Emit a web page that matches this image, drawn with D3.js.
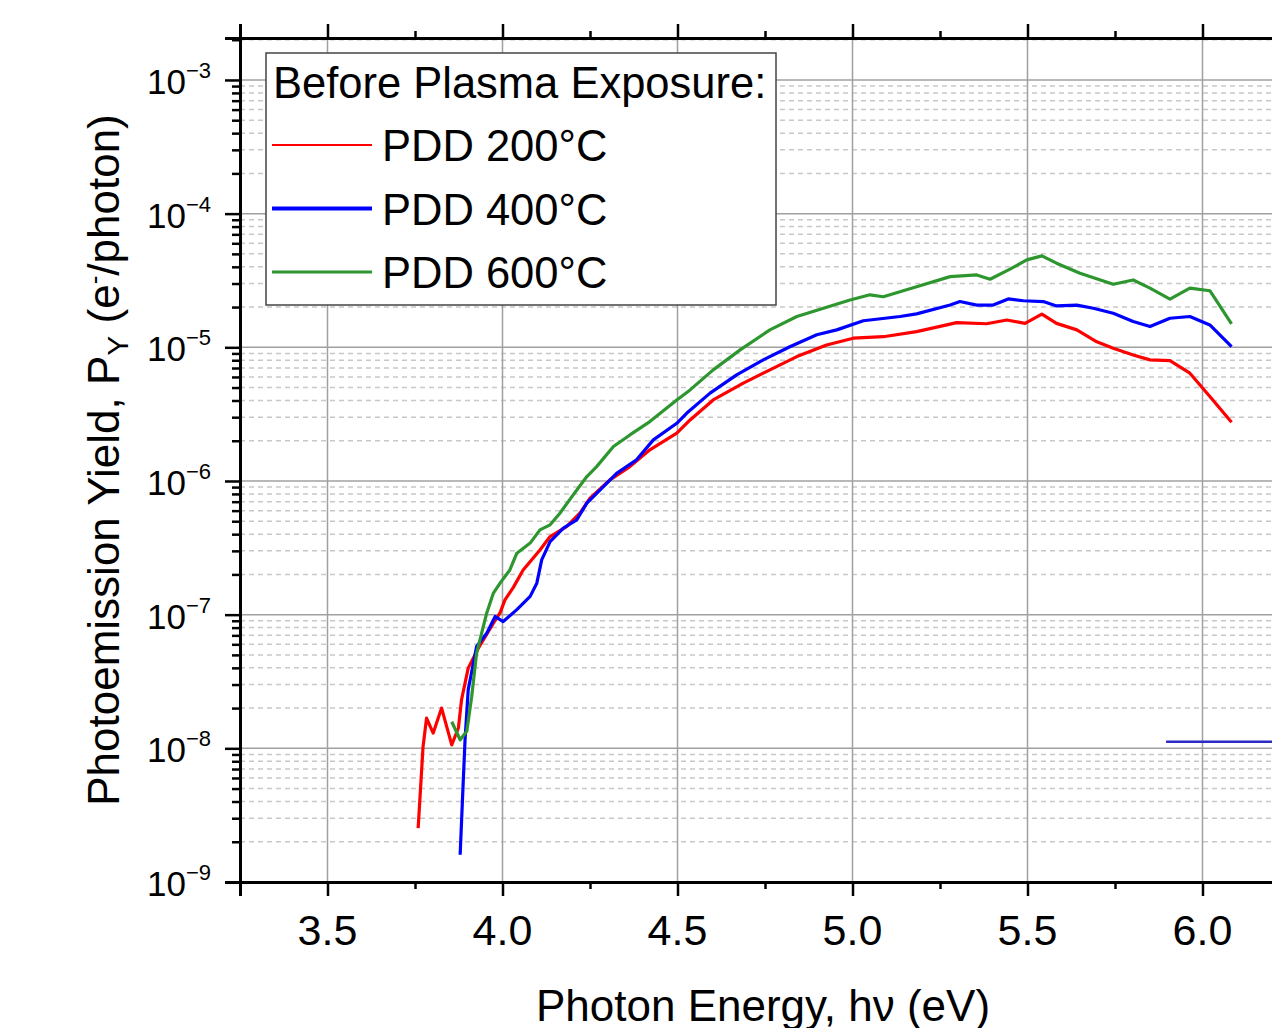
<!DOCTYPE html>
<html>
<head>
<meta charset="utf-8">
<script src="https://cdn.jsdelivr.net/npm/d3@7"></script>
<style>
  html, body { margin: 0; padding: 0; background: #fff; overflow: hidden; }
  svg { display: block; font-family: "Liberation Sans", Arial, sans-serif; }
</style>
</head>
<body>
<svg id="chart" width="1272" height="1028"></svg>
<script>
// ---------- data ----------
const xTickLabels = ["3.5", "4.0", "4.5", "5.0", "5.5", "6.0"];
const xMajorTicks = [3.5, 4.0, 4.5, 5.0, 5.5, 6.0];
const xMinorTicks = [3.25, 3.75, 4.25, 4.75, 5.25, 5.75, 6.25];
const yMajorExponents = [-9, -8, -7, -6, -5, -4, -3];

const seriesNames = ["PDD 200°C", "PDD 400°C", "PDD 600°C"];
const seriesColors = ["#ff0000", "#0000ff", "#2e962e"];

const pdd200 = [
  [3.759, 2.53e-9], [3.773, 1.03e-8], [3.783, 1.68e-8], [3.802, 1.30e-8], [3.826, 2.00e-8],
  [3.855, 1.06e-8], [3.874, 1.42e-8], [3.883, 2.31e-8], [3.902, 3.98e-8], [3.931, 5.61e-8],
  [3.974, 8.63e-8], [3.993, 1.03e-7], [4.007, 1.29e-7], [4.031, 1.60e-7], [4.059, 2.16e-7],
  [4.107, 3.05e-7], [4.136, 3.84e-7], [4.183, 4.56e-7], [4.221, 5.74e-7], [4.250, 7.43e-7],
  [4.307, 1.02e-6], [4.364, 1.28e-6], [4.421, 1.71e-6], [4.498, 2.28e-6], [4.536, 2.86e-6],
  [4.602, 4.04e-6], [4.688, 5.39e-6], [4.764, 6.78e-6], [4.841, 8.52e-6], [4.926, 1.04e-5],
  [5.002, 1.17e-5], [5.088, 1.20e-5], [5.183, 1.31e-5], [5.298, 1.53e-5], [5.383, 1.50e-5],
  [5.441, 1.60e-5], [5.493, 1.51e-5], [5.541, 1.77e-5], [5.583, 1.51e-5], [5.641, 1.35e-5],
  [5.698, 1.10e-5], [5.745, 9.85e-6], [5.802, 8.77e-6], [5.850, 8.05e-6], [5.907, 7.95e-6],
  [5.964, 6.40e-6], [6.021, 4.28e-6], [6.083, 2.75e-6]
];

const pdd400 = [
  [3.879, 1.60e-9], [3.888, 5.81e-9], [3.893, 1.16e-8], [3.902, 2.74e-8], [3.926, 5.77e-8],
  [3.955, 7.27e-8], [3.979, 9.68e-8], [4.002, 8.88e-8], [4.041, 1.09e-7], [4.079, 1.37e-7],
  [4.098, 1.72e-7], [4.112, 2.57e-7], [4.136, 3.52e-7], [4.174, 4.44e-7], [4.212, 5.12e-7],
  [4.241, 6.82e-7], [4.279, 8.58e-7], [4.326, 1.14e-6], [4.383, 1.44e-6], [4.431, 2.03e-6],
  [4.498, 2.70e-6], [4.526, 3.21e-6], [4.593, 4.54e-6], [4.669, 6.22e-6], [4.745, 8.05e-6],
  [4.821, 1.01e-5], [4.898, 1.24e-5], [4.955, 1.35e-5], [5.031, 1.58e-5], [5.136, 1.70e-5],
  [5.183, 1.78e-5], [5.279, 2.07e-5], [5.307, 2.20e-5], [5.355, 2.07e-5], [5.402, 2.07e-5],
  [5.445, 2.30e-5], [5.488, 2.23e-5], [5.545, 2.20e-5], [5.583, 2.04e-5], [5.641, 2.07e-5],
  [5.688, 1.96e-5], [5.745, 1.80e-5], [5.802, 1.56e-5], [5.850, 1.43e-5], [5.907, 1.65e-5],
  [5.964, 1.70e-5], [6.021, 1.47e-5], [6.083, 1.01e-5]
];

const pdd600 = [
  [3.855, 1.58e-8], [3.879, 1.16e-8], [3.898, 1.34e-8], [3.912, 2.44e-8], [3.926, 5.15e-8],
  [3.955, 1.03e-7], [3.974, 1.45e-7], [3.993, 1.72e-7], [4.021, 2.16e-7], [4.041, 2.88e-7],
  [4.079, 3.43e-7], [4.107, 4.31e-7], [4.136, 4.70e-7], [4.164, 5.74e-7], [4.202, 7.87e-7],
  [4.241, 1.08e-6], [4.269, 1.28e-6], [4.317, 1.81e-6], [4.364, 2.21e-6], [4.421, 2.78e-6],
  [4.498, 4.04e-6], [4.536, 4.80e-6], [4.602, 6.78e-6], [4.679, 9.57e-6], [4.764, 1.35e-5],
  [4.841, 1.70e-5], [4.917, 1.96e-5], [4.993, 2.26e-5], [5.050, 2.47e-5], [5.088, 2.39e-5],
  [5.183, 2.84e-5], [5.279, 3.38e-5], [5.355, 3.48e-5], [5.393, 3.23e-5], [5.450, 3.84e-5],
  [5.498, 4.51e-5], [5.541, 4.83e-5], [5.583, 4.26e-5], [5.650, 3.58e-5], [5.745, 2.96e-5],
  [5.802, 3.19e-5], [5.850, 2.77e-5], [5.907, 2.29e-5], [5.964, 2.77e-5], [6.021, 2.65e-5],
  [6.083, 1.50e-5]
];

// flat blue segment at lower right (partly outside the view)
const baselineSegment = [[5.896, 1.12e-8], [6.25, 1.12e-8]];

// ---------- layout ----------
const svg = d3.select("#chart");
const L = 240, R = 1290, T = 38, B = 882;

const x = d3.scaleLinear().domain([3.25, 6.25]).range([L, R]);
const y = d3.scaleLog().domain([1e-9, 2.06e-3]).range([B, T]);

// grid
const grid = svg.append("g");
const minorVals = [];
yMajorExponents.forEach(e => {
  for (let k = 2; k <= 9; k++) {
    const v = k * Math.pow(10, e);
    if (v < 2.06e-3) minorVals.push(v);
  }
});
grid.selectAll(".ymin").data(minorVals).enter().append("line")
  .attr("x1", L).attr("x2", R)
  .attr("y1", d => y(d)).attr("y2", d => y(d))
  .attr("stroke", "#c8c8c8").attr("stroke-width", 1.5)
  .attr("stroke-dasharray", "5,4");
grid.selectAll(".ymaj").data(yMajorExponents.map(e => Math.pow(10, e))).enter().append("line")
  .attr("x1", L).attr("x2", R)
  .attr("y1", d => y(d)).attr("y2", d => y(d))
  .attr("stroke", "#a0a0a0").attr("stroke-width", 1.5);
grid.selectAll(".xmaj").data(xMajorTicks).enter().append("line")
  .attr("x1", d => x(d)).attr("x2", d => x(d))
  .attr("y1", T).attr("y2", B)
  .attr("stroke", "#a0a0a0").attr("stroke-width", 1.5);

// curves
const line = d3.line().x(d => x(d[0])).y(d => y(d[1]));
const allSeries = [pdd200, pdd400, pdd600];
allSeries.forEach((s, i) => {
  svg.append("path").datum(s)
    .attr("d", line)
    .attr("fill", "none")
    .attr("stroke", seriesColors[i])
    .attr("stroke-width", 3.2)
    .attr("stroke-linejoin", "round");
});
svg.append("path").datum(baselineSegment)
  .attr("d", line).attr("fill", "none")
  .attr("stroke", "#2b2bc8").attr("stroke-width", 2.5);

// legend
const lg = svg.append("g");
lg.append("rect").attr("x", 266).attr("y", 53).attr("width", 510).attr("height", 252)
  .attr("fill", "#fff").attr("stroke", "#444").attr("stroke-width", 1.5);
lg.append("text").attr("x", 273).attr("y", 98).attr("font-size", 43.5).attr("fill", "#000")
  .text("Before Plasma Exposure:");
const legendWidths = [2, 4, 3];
seriesNames.forEach((n, i) => {
  const cy = 145 + i * 63.5;
  lg.append("line").attr("x1", 272).attr("x2", 372).attr("y1", cy).attr("y2", cy)
    .attr("stroke", seriesColors[i]).attr("stroke-width", legendWidths[i]);
  lg.append("text").attr("x", 382).attr("y", cy + 16).attr("font-size", 43.5).attr("fill", "#000")
    .text(n);
});

// axes
const axes = svg.append("g");
const bottomMajor = d3.axisBottom(x).tickValues(xMajorTicks).tickSize(14).tickFormat("");
const bottomMinor = d3.axisBottom(x).tickValues(xMinorTicks).tickSize(7).tickFormat("");
const topMajor = d3.axisTop(x).tickValues(xMajorTicks).tickSize(14).tickFormat("");
const topMinor = d3.axisTop(x).tickValues(xMinorTicks).tickSize(7).tickFormat("");
const leftMajor = d3.axisLeft(y).tickValues(yMajorExponents.map(e => Math.pow(10, e))).tickSize(15).tickFormat("");
const leftMinor = d3.axisLeft(y).tickValues(minorVals).tickSize(8).tickFormat("");

function styleAxis(g) {
  g.selectAll("path.domain").attr("stroke", "#000").attr("stroke-width", 3);
  g.selectAll(".tick line").attr("stroke", "#000").attr("stroke-width", 2.5);
}
axes.append("g").attr("transform", `translate(0,${B})`).call(bottomMinor).call(styleAxis);
axes.append("g").attr("transform", `translate(0,${B})`).call(bottomMajor).call(styleAxis);
axes.append("g").attr("transform", `translate(0,${T})`).call(topMinor).call(styleAxis);
axes.append("g").attr("transform", `translate(0,${T})`).call(topMajor).call(styleAxis);
axes.append("g").attr("transform", `translate(${L},0)`).call(leftMinor).call(styleAxis);
axes.append("g").attr("transform", `translate(${L},0)`).call(leftMajor).call(styleAxis);
axes.selectAll("path.domain").attr("fill", "none");

// x tick labels
svg.selectAll(".xl").data(xMajorTicks).enter().append("text")
  .attr("x", d => x(d)).attr("y", 945)
  .attr("text-anchor", "middle").attr("font-size", 43).attr("fill", "#000")
  .text((d, i) => xTickLabels[i]);

// y tick labels
yMajorExponents.forEach(e => {
  const t = svg.append("text")
    .attr("x", 211).attr("y", y(Math.pow(10, e)) + 14)
    .attr("text-anchor", "end").attr("font-size", 35).attr("fill", "#000");
  t.append("tspan").text("10");
  t.append("tspan").attr("font-size", 22).attr("dy", -16).text("\u2212" + Math.abs(e));
});

// axis titles
svg.append("text").attr("x", 763).attr("y", 1021).attr("text-anchor", "middle")
  .attr("font-size", 44).attr("fill", "#000").text("Photon Energy, h\u03bd (eV)");

const yt = svg.append("text")
  .attr("transform", "translate(119,460) rotate(-90)")
  .attr("text-anchor", "middle").attr("font-size", 44).attr("fill", "#000");
yt.append("tspan").text("Photoemission Yield, P");
yt.append("tspan").attr("font-size", 30).attr("dy", 9).text("Y");
yt.append("tspan").attr("dy", -9).text(" (e");
yt.append("tspan").attr("font-size", 26).attr("dy", -16).text("-");
yt.append("tspan").attr("dy", 16).text("/photon)");
</script>
</body>
</html>
